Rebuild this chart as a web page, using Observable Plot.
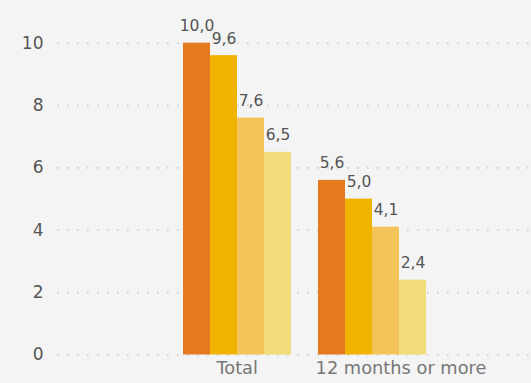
<!DOCTYPE html>
<html>
<head>
<meta charset="utf-8">
<script src="https://cdn.jsdelivr.net/npm/d3@7"></script>
<script src="https://cdn.jsdelivr.net/npm/@observablehq/plot@0.6"></script>
<style>
  html, body { margin: 0; padding: 0; background: #f4f4f4; }
  #chart svg { display: block; background: #f4f4f4; }
</style>
</head>
<body>
<div id="chart"></div>
<script>
const groups = ["Total", "12 months or more"];
const series = ["Series 1", "Series 2", "Series 3", "Series 4"];
const totalValues = [10.0, 9.6, 7.6, 6.5];
const longTermValues = [5.6, 5.0, 4.1, 2.4];
const yTicks = [0, 2, 4, 6, 8, 10];
const colors = ["#e5791e", "#efb300", "#f4c45a", "#f0dc78"];

const groupValues = [totalValues, longTermValues];
const rows = [];
groups.forEach((g, gi) => {
  series.forEach((s, si) => {
    rows.push({group: g, series: s, key: g + "|" + s, value: groupValues[gi][si]});
  });
});
const xDomain = [
  ...series.map(s => groups[0] + "|" + s),
  "gap",
  ...series.map(s => groups[1] + "|" + s)
];
const fmt = d => d.toFixed(1).replace(".", ",");
const font = "DejaVu Sans, sans-serif";

const plot = Plot.plot({
  width: 531,
  height: 383,
  marginLeft: 57,
  marginRight: 0,
  marginTop: 42.7,
  marginBottom: 28.5,
  style: {background: "#f4f4f4", fontFamily: font},
  x: {domain: xDomain, range: [180.7, 428.7], padding: 0, axis: null},
  y: {domain: [0, 10], axis: null, label: null},
  color: {domain: series, range: colors},
  marks: [
    Plot.ruleY(yTicks, {stroke: "#c8c8c8", strokeWidth: 1.6, strokeDasharray: "1.6,8.4"}),
    Plot.axisY(yTicks, {tickSize: 0, tickPadding: 14, fontSize: 17, fill: "#555", label: null, tickFormat: d => String(d)}),
    Plot.barY(rows, {x: "key", y: "value", fill: "series"}),
    Plot.text(rows, {x: "key", y: "value", text: d => fmt(d.value), dy: -17, fontSize: 15.5, fill: "#555"}),
    Plot.text([groups[0]], {x: () => groups[0] + "|" + series[1], text: d => d, frameAnchor: "bottom", dx: 13.2, dy: 19, fontSize: 17.8, fill: "#777"}),
    Plot.text([groups[1]], {x: () => groups[1] + "|" + series[2], text: d => d, frameAnchor: "bottom", dx: 15, dy: 19, fontSize: 17.8, fill: "#777"})
  ]
});
document.getElementById("chart").appendChild(plot);
</script>
</body>
</html>
